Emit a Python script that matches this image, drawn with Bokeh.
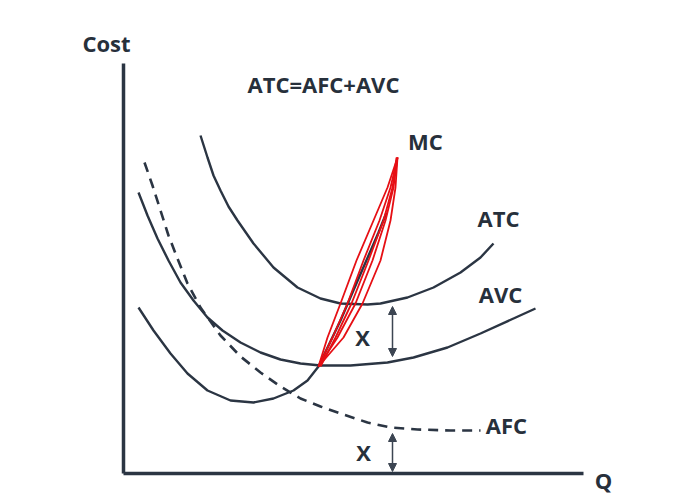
from bokeh.plotting import figure
from bokeh.models import Range1d, Arrow, NormalHead
from bokeh.core.properties import value
from bokeh.embed import file_html
from bokeh.resources import INLINE

# ---- data (arbitrary quantity / cost units, origin at axis corner) ----
atc_q = [77, 84, 90, 97, 105, 114, 130, 150, 174, 197, 217, 244, 257, 284, 310, 337, 357, 370]
atc_c = [338, 316, 298, 283, 267, 253, 230, 206, 186, 175, 170, 169, 170, 176, 186, 201, 216, 230]

avc_q = [15, 24, 34, 45, 57, 70, 84, 99, 117, 137, 157, 177, 197, 227, 264, 290, 324, 357, 390, 412]
avc_c = [281, 258, 235, 213, 191, 173, 156, 143, 131, 121, 114, 110, 108, 108, 111, 116, 126, 140, 155, 165]

afc_q = [21, 29, 37, 45, 54, 64, 77, 97, 117, 137, 157, 177, 197, 217, 244, 267, 294, 327, 357]
afc_c = [311, 288, 263, 238, 215, 190, 166, 138, 117, 101, 87, 75, 67, 60, 51, 46, 44, 43, 43]

mc_q = [15, 30, 47, 64, 84, 107, 130, 150, 170, 184, 195, 205, 217, 229, 242, 255, 263]
mc_c = [166, 143, 120, 100, 83, 73, 71, 75, 83, 93, 107, 128, 153, 181, 211, 241, 261]

# hand-drawn red MC strokes
mc_red_c = [107, 136, 170, 213, 253, 286, 316]
mc_red_q = [
    [195, 204, 217, 233, 250, 264, 274],
    [195, 209, 224, 240, 256, 267, 274],
    [195, 214, 232, 249, 262, 270, 274],
    [195, 220, 239, 257, 267, 272, 274],
    [197, 212, 228, 245, 260, 269, 273],
]

q_axis_end = 460
cost_axis_end = 410

gap_q = 269
gap_atc_avc = [167, 117]
gap_afc = [40, 2]

DARK = "#2b3543"
TEXT = "#27303b"
RED = "#e60f14"
FONT = value("Open Sans")

p = figure(width=696, height=497, x_range=Range1d(-123, 573), y_range=Range1d(-24, 473),
           x_axis_type=None, y_axis_type=None, toolbar_location=None,
           output_backend="svg", min_border=0, outline_line_color=None)
p.background_fill_color = "white"

# axes
p.line([0, 0], [0, cost_axis_end], line_color=DARK, line_width=3.5)
p.line([0, q_axis_end], [0, 0], line_color=DARK, line_width=3.5)

# curves
p.line(atc_q, atc_c, line_color=DARK, line_width=2.4)
p.line(avc_q, avc_c, line_color=DARK, line_width=2.4)
p.line(afc_q, afc_c, line_color=DARK, line_width=2.6, line_dash="10 7")
p.line(mc_q, mc_c, line_color=DARK, line_width=2.4)
for qs in mc_red_q:
    p.line(qs, mc_red_c, line_color=RED, line_width=1.8)

# gap arrows
for ys in (gap_atc_avc, gap_afc):
    p.add_layout(Arrow(x_start=gap_q, y_start=ys[0], x_end=gap_q, y_end=ys[1],
                       line_color="#3c4552", line_width=1.5,
                       start=NormalHead(size=8, fill_color="#3c4552", line_color="#3c4552"),
                       end=NormalHead(size=8, fill_color="#3c4552", line_color="#3c4552")))

# labels
labels = ["Cost", "ATC=AFC+AVC", "MC", "ATC", "AVC", "AFC", "X", "X", "Q"]
lx = [-17, 200, 302, 375, 377, 383, 239, 240, 480]
ly = [431, 390, 333, 256, 180, 49, 137, 22, -6]
p.text(lx, ly, text=labels, text_font=FONT, text_font_style="bold",
       text_font_size="22px", text_color=TEXT, text_align="center", text_baseline="middle")

open("out.html", "w").write(file_html(p, INLINE))
